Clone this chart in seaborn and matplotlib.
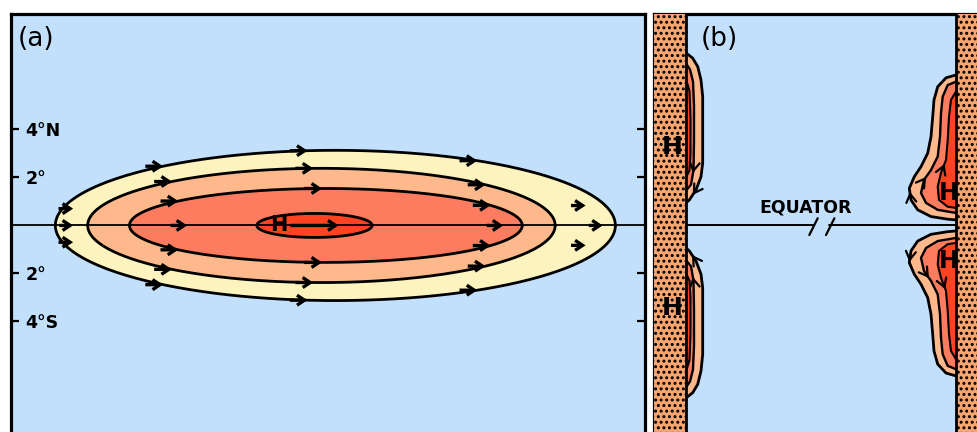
import numpy as np
import matplotlib
matplotlib.use("Agg")
import matplotlib.pyplot as plt
import seaborn as sns

sns.set_theme(style="white")
plt.rcParams["font.family"] = ["DejaVu Sans"]
plt.rcParams["hatch.color"] = "black"
plt.rcParams["hatch.linewidth"] = 1.4

OCEAN = "#C2E0FC"
BAND_COLORS = ["#FDF3BE", "#FDB98B", "#FD7C5F", "#FF421F"]
LAND = "#F8A56F"

# ---------------- panel (a): equatorial Kelvin wave ----------------
# nested elevation bands (outer -> inner): centre / half-length along the
# equator (distance units) and half-width in degrees latitude
band_center = [51.2, 49.0, 49.7, 47.9]
band_halflength = [44.2, 36.9, 31.0, 9.1]
band_halfwidth = [3.13, 2.38, 1.54, 0.50]

# eastward current arrows sitting on the edges of the three outer bands
edge_arrow_tips = [[24.0, 46.8, 73.6], [25.4, 47.7, 74.9], [26.4, 49.1, 75.7]]
# arrows along the equator and just off it
equator_arrow_tips = [9.8, 27.8, 51.7, 77.7, 93.4]
equator_arrow_len = [2.2, 2.6, 7.6, 2.6, 2.2]
offeq_arrow_tips = [9.8, 90.7]
offeq_arrow_lat = [0.70, 0.83]

lat_ticks = [4, 2, -2, -4]
lat_labels = ["4°N", "2°", "2°", "4°S"]

# ---------------- panel (b): coastal Kelvin waves ----------------
WEST_COAST, EAST_COAST = 0.0, 270.0
# northern-hemisphere lobe profiles: latitude vs offshore width (mirrored south)
west_outer_lat = [0.94, 1.06, 1.48, 2.03, 2.60, 3.98, 5.37, 6.06, 6.62, 6.97, 7.19]
west_outer_w = [0.0, 3.3, 10.0, 15.0, 16.7, 16.7, 16.7, 15.0, 11.7, 6.7, 0.0]
west_mid_lat = [1.45, 1.70, 2.30, 3.50, 5.00, 6.00, 6.50, 6.75]
west_mid_w = [0.0, 5.0, 7.5, 8.0, 8.0, 7.0, 4.0, 0.0]
west_in_lat = [2.00, 2.30, 3.00, 4.50, 5.60, 6.10]
west_in_w = [0.0, 3.5, 4.5, 4.5, 3.5, 0.0]

east_outer_lat = [0.23, 0.26, 0.37, 0.65, 1.06, 1.55, 2.03, 2.45, 3.01, 3.70,
                  4.53, 5.23, 5.78, 6.15, 6.27]
east_outer_w = [0.0, 8.3, 25.0, 38.3, 45.0, 46.7, 41.7, 35.0, 28.3, 25.0,
                23.3, 22.0, 18.3, 10.0, 0.0]
east_mid_lat = [0.52, 0.65, 0.94, 1.35, 1.90, 2.31, 2.87, 3.70, 4.69, 5.37, 5.85, 5.99]
east_mid_w = [0.0, 18.3, 30.0, 35.0, 32.0, 25.0, 18.3, 16.0, 15.0, 13.3, 8.3, 0.0]
east_in_lat = [0.73, 0.78, 1.06, 1.62, 2.19, 2.73, 3.56, 4.53, 5.23, 5.58]
east_in_w = [0.0, 8.3, 17.0, 18.3, 15.0, 10.0, 8.3, 7.0, 5.0, 0.0]

# arrowheads on the lobe edges: (coast, level, latitude, +1 north / -1 south)
lobe_arrows = [
    ("west", 0, 1.27, -1), ("west", 1, 2.19, -1),
    ("west", 0, -1.23, 1), ("west", 1, -2.15, 1),
    ("east", 0, 1.40, 1), ("east", 1, 2.02, 1), ("east", 2, 2.56, 1),
    ("east", 0, -1.52, -1), ("east", 1, -2.19, -1), ("east", 2, -2.65, -1),
]

# ---------------- figure layout ----------------
W, H = 977, 432
LAT_TOP, LAT_BOT = 8.81, -9.5
PX_PER_DEG = 24.0
TOP_PX = 14.0
HEIGHT_PX = (LAT_TOP - LAT_BOT) * PX_PER_DEG


def rect(left_px, right_px):
    return [left_px / W, 1 - (TOP_PX + HEIGHT_PX) / H,
            (right_px - left_px) / W, HEIGHT_PX / H]


fig = plt.figure(figsize=(W / 100, H / 100), dpi=100)
axa = fig.add_axes(rect(11, 644.5))
axb = fig.add_axes(rect(654, 994))

for ax in (axa, axb):
    ax.set_facecolor(OCEAN)
    ax.set_ylim(LAT_BOT, LAT_TOP)
    for s in ax.spines.values():
        s.set_visible(True)
        s.set_color("black")
        s.set_linewidth(2.3)

# ---- panel (a) ----
t = np.linspace(0, 2 * np.pi, 500)
for k in range(4):
    ex = band_center[k] + band_halflength[k] * np.cos(t)
    ey = band_halfwidth[k] * np.sin(t)
    axa.fill(ex, ey, color=BAND_COLORS[k], lw=0, zorder=2 + k)
    sns.lineplot(x=ex, y=ey, sort=False, estimator=None, color="black",
                 lw=2.0, ax=axa, zorder=2.5 + k)

sns.lineplot(x=[0, 100], y=[0, 0], color="black", lw=1.3, ax=axa, zorder=7)

ARROW_A = dict(arrowstyle="->,head_length=0.45,head_width=0.3",
               lw=2.4, color="black", shrinkA=0, shrinkB=0,
               joinstyle="miter", capstyle="butt")


def flow_arrow(ax, x_tip, lat, length):
    ax.annotate("", xy=(x_tip, lat), xytext=(x_tip - length, lat),
                arrowprops=ARROW_A, zorder=9)


for k, tips in enumerate(edge_arrow_tips):
    for xt in tips:
        u = (xt - band_center[k]) / band_halflength[k]
        lat = band_halfwidth[k] * np.sqrt(max(1 - u * u, 0))
        for sgn in (1, -1):
            flow_arrow(axa, xt, sgn * lat, 2.8)
for xt, ln in zip(equator_arrow_tips, equator_arrow_len):
    flow_arrow(axa, xt, 0.0, ln)
for xt, la in zip(offeq_arrow_tips, offeq_arrow_lat):
    for sgn in (1, -1):
        flow_arrow(axa, xt, sgn * la, 2.3)

axa.text(42.3, 0.0, "H", fontsize=15, fontweight="bold", ha="center",
         va="center", zorder=10, color="black")
axa.text(0.011, 0.942, "(a)", transform=axa.transAxes, fontsize=19,
         ha="left", va="center", color="black")

axa.set_xlim(0, 100)
axa.set_xticks([])
axa.set_yticks(lat_ticks, lat_labels)
axa.tick_params(axis="y", which="both", direction="in", length=6, width=1.6,
                left=True, right=True, pad=-10.5, labelsize=12.5,
                colors="black")
for lbl in axa.get_yticklabels():
    lbl.set_horizontalalignment("left")
    lbl.set_fontweight("bold")
axa.set_xlabel("")
axa.set_ylabel("")

# ---- panel (b) ----
profiles = {
    "west": [(west_outer_lat, west_outer_w), (west_mid_lat, west_mid_w),
             (west_in_lat, west_in_w)],
    "east": [(east_outer_lat, east_outer_w), (east_mid_lat, east_mid_w),
             (east_in_lat, east_in_w)],
}
coast_x = {"west": WEST_COAST, "east": EAST_COAST}
offshore = {"west": 1.0, "east": -1.0}
line_w = [2.0, 1.7, 1.5]

for coast, levels in profiles.items():
    for hemi in (1, -1):
        for k, (plat, pw) in enumerate(levels):
            lat = hemi * np.asarray(plat)
            xs = coast_x[coast] + offshore[coast] * np.asarray(pw)
            axb.fill_betweenx(lat, coast_x[coast], xs, color=BAND_COLORS[k + 1],
                              lw=0, zorder=2 + k)
            axb.plot(xs, lat, color="black", lw=line_w[k], zorder=2.5 + k,
                     solid_capstyle="round", solid_joinstyle="round")

ARROW_B = dict(arrowstyle="->,head_length=0.5,head_width=0.3",
               lw=1.6, color="black", shrinkA=0, shrinkB=0)
for coast, k, lat, direc in lobe_arrows:
    plat, pw = profiles[coast][k]
    tail_lat = lat - direc * 0.12
    x_tip = coast_x[coast] + offshore[coast] * np.interp(abs(lat), plat, pw)
    x_tail = coast_x[coast] + offshore[coast] * np.interp(abs(tail_lat), plat, pw)
    axb.annotate("", xy=(x_tip, lat), xytext=(x_tail, tail_lat),
                 arrowprops=ARROW_B, zorder=6)

# equator with a break mark
sns.lineplot(x=[WEST_COAST, 128], y=[0, 0], color="black", lw=1.4, ax=axb, zorder=6)
sns.lineplot(x=[143, EAST_COAST], y=[0, 0], color="black", lw=1.4, ax=axb, zorder=6)
for x0 in (123.3, 140.0):
    axb.plot([x0, x0 + 8.4], [-0.4, 0.3], color="black", lw=1.6, zorder=6)
axb.text(120, 0.52, "EQUATOR", fontsize=12.5, fontweight="bold", ha="center",
         va="baseline", color="black", zorder=6)

# land strips with stipple
axb.axvspan(-40, WEST_COAST, facecolor=LAND, edgecolor="black", hatch="...",
            lw=0, zorder=7)
axb.axvspan(EAST_COAST, 340, facecolor=LAND, edgecolor="black", hatch="...",
            lw=0, zorder=7)
axb.axvline(WEST_COAST, color="black", lw=2.0, zorder=8)
axb.axvline(EAST_COAST, color="black", lw=2.0, zorder=8)

for lat in (3.25, -3.42):
    axb.text(-14, lat, "H", fontsize=18, fontweight="bold", ha="center",
             va="center", color="black", zorder=9)
for lat in (1.35, -1.48):
    axb.text(263, lat, "H", fontsize=17, fontweight="bold", ha="center",
             va="center", color="black", zorder=5)

axb.text(15, 7.75, "(b)", fontsize=19, ha="left", va="center", color="black")

axb.set_xlim(-32, 308)
axb.set_xticks([])
axb.set_yticks([])
axb.set_xlabel("")
axb.set_ylabel("")

fig.savefig("out.png", dpi=100, facecolor="white")
